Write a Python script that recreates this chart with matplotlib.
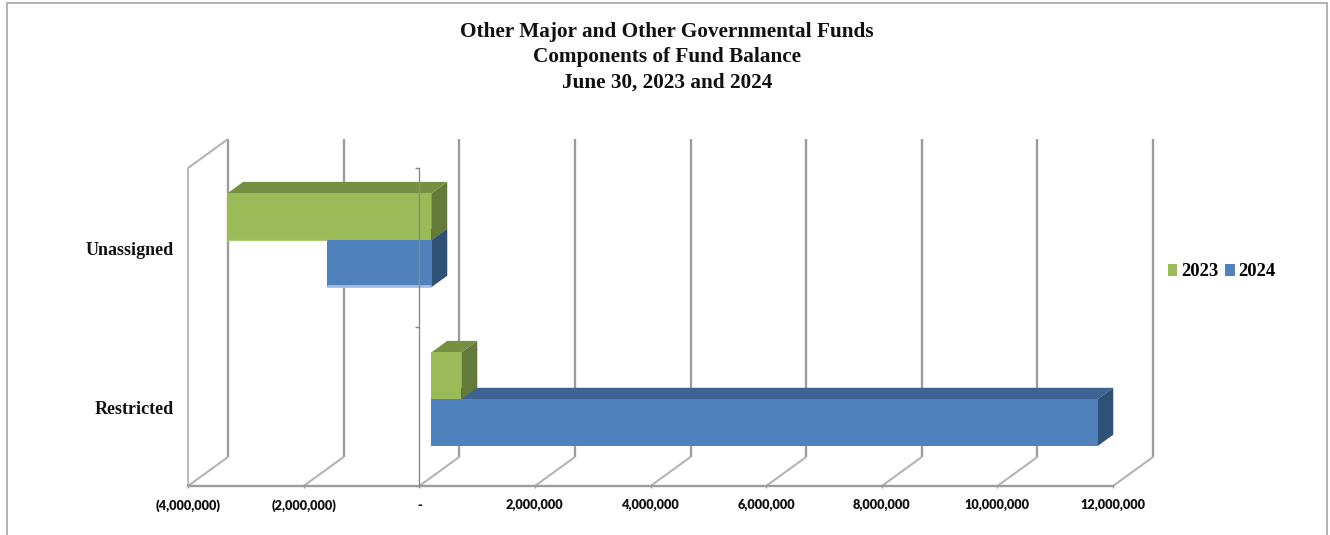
import matplotlib
matplotlib.use("Agg")
import matplotlib.pyplot as plt
from matplotlib.patches import Patch, Polygon, Rectangle

# Fund balance components, in dollars
categories = ["Restricted", "Unassigned"]
values_2023 = [520000, -3530000]
values_2024 = [11520000, -1800000]
years = ["2023", "2024"]
x_ticks = [-4000000, -2000000, 0, 2000000, 4000000, 6000000, 8000000, 10000000, 12000000]
x_tick_labels = ["(4,000,000)", "(2,000,000)", "-", "2,000,000", "4,000,000",
                 "6,000,000", "8,000,000", "10,000,000", "12,000,000"]
title_lines = ["Other Major and Other Governmental Funds",
               "Components of Fund Balance",
               "June 30, 2023 and 2024"]

W, H = 1330, 535
LEFT, RIGHT, TOP, BOTTOM = 188, 1113, 168, 486
SERIF = "Liberation Serif"

GRID = "#9C9C9C"
GRID_LIGHT = "#B4B4B4"
GREEN = ("#9BBB59", "#778F42", "#647A38", "#B3CC7C")
BLUE = ("#4F81BD", "#3C6391", "#2F5178", "#A3BDDD")

fig = plt.figure(figsize=(W / 100, H / 100), dpi=100, facecolor="white")
ax = fig.add_axes([LEFT / W, 1 - BOTTOM / H, (RIGHT - LEFT) / W, (BOTTOM - TOP) / H])
ax.set_xlim(x_ticks[0], x_ticks[-1])
ax.set_ylim(0, 2)
ax.patch.set_visible(False)

# Oblique projection: how far the back wall sits from the front plane, in data units
depth_x = 40 * (x_ticks[-1] - x_ticks[0]) / (RIGHT - LEFT)
depth_y = 29 * 2 / (BOTTOM - TOP)
BAR_NEAR, BAR_FAR = 0.30, 0.70
BAR_H = 0.295
GROUP_OFFSET = 0.49


def wall(xs, ys, color=GRID, lw=1.7, z=1):
    ax.plot(xs, ys, color=color, lw=lw, clip_on=False, zorder=z, solid_capstyle="butt")


# Back wall gridlines and the floor and top edges that run to them
for tick in x_ticks:
    wall([tick + depth_x] * 2, [depth_y, 2 + depth_y])
    wall([tick, tick + depth_x], [0, depth_y], color=GRID_LIGHT, lw=1.5)
wall([x_ticks[0]] * 2, [0, 2], color=GRID_LIGHT, lw=1.3)
wall([x_ticks[0], x_ticks[0] + depth_x], [2, 2 + depth_y], color=GRID_LIGHT, lw=1.5)


def box(center, value, colors, z):
    """A 3D bar: the front face is a real bar, top and end faces are sheared from it."""
    x_near, y_near = BAR_NEAR * depth_x, BAR_NEAR * depth_y
    dx, dy = (BAR_FAR - BAR_NEAR) * depth_x, (BAR_FAR - BAR_NEAR) * depth_y
    x0, x1 = sorted((x_near, x_near + value))
    low = center + y_near - BAR_H / 2
    high = low + BAR_H
    ax.add_patch(Polygon([(x0, high), (x1, high), (x1 + dx, high + dy), (x0 + dx, high + dy)],
                         facecolor=colors[1], edgecolor="none", zorder=z, clip_on=False))
    ax.add_patch(Polygon([(x1, low), (x1, high), (x1 + dx, high + dy), (x1 + dx, low + dy)],
                         facecolor=colors[2], edgecolor="none", zorder=z, clip_on=False))
    ax.barh(center + y_near, value, height=BAR_H, left=x_near, color=colors[0],
            zorder=z, clip_on=False)


# Draw the lower series of each group first so the upper one overlaps it
for i, (v23, v24) in enumerate(zip(values_2023, values_2024)):
    center = i + GROUP_OFFSET
    box(center - BAR_H / 2, v24, BLUE, 2)
    box(center + BAR_H / 2, v23, GREEN, 2.1)

# Pale lower edge of the negative bars
x_near, y_near = BAR_NEAR * depth_x, BAR_NEAR * depth_y
seam = 1 + GROUP_OFFSET + y_near
lower = seam - BAR_H
ax.plot([x_near + values_2024[1], x_near], [lower + 0.008] * 2, color=BLUE[3], lw=2.0,
        zorder=2.2, clip_on=False, solid_capstyle="butt")
ax.plot([x_near + values_2023[1], x_near + values_2024[1]], [seam] * 2, color=GREEN[3],
        lw=1.0, zorder=2.2, clip_on=False, solid_capstyle="butt")

# Axes: category axis crosses at zero, value axis runs along the floor
for side in ("top", "right"):
    ax.spines[side].set_visible(False)
ax.spines["left"].set_position(("data", 0))
ax.spines["left"].set_color("#8A8A8A")
ax.spines["left"].set_linewidth(1.0)
ax.spines["left"].set_zorder(3)
ax.spines["bottom"].set_color(GRID)
ax.spines["bottom"].set_linewidth(1.7)
ax.set_yticks([0, 1, 2])
ax.set_yticklabels([])
ax.tick_params(axis="y", length=3.2, width=1.0, color="#8A8A8A")
ax.set_xticks(x_ticks)
ax.set_xticklabels(x_tick_labels, family="Lato", fontweight="heavy", fontsize=9.2, color="#111111")
ax.tick_params(axis="x", length=1.5, width=1.0, color=GRID, pad=8)

# Category names sit left of the chart, right aligned
for i, name in enumerate(categories):
    ax.annotate(name, xy=(0, i + GROUP_OFFSET), xycoords=("axes fraction", "data"),
                xytext=(174, -1), textcoords=("figure pixels", "offset pixels"),
                ha="right", va="center", family=SERIF, fontweight="bold",
                fontsize=13, color="#111111")

for line, y in zip(title_lines, (32, 57, 83)):
    fig.text(667 / W, 1 - y / H, line, ha="center", va="center", family=SERIF,
             fontweight="bold", fontsize=15.3, color="#111111")

handles = [Patch(facecolor=GREEN[0]), Patch(facecolor=BLUE[0])]
fig.legend(handles, years, loc="center left", bbox_to_anchor=(1168 / W, 1 - 272 / H), ncols=2,
           frameon=False, handlelength=0.5, handleheight=0.55, handletextpad=0.2,
           columnspacing=0.38, borderpad=0, borderaxespad=0,
           prop={"family": SERIF, "weight": "bold", "size": 13.4})

# Outer frame, open past the bottom of the image
fig.add_artist(Rectangle((7 / W, -0.02), (1327 - 7) / W, 1.02 - 3 / H, transform=fig.transFigure,
                         fill=False, edgecolor="#ABABAB", lw=1.3))

fig.savefig("out.png", dpi=100)
